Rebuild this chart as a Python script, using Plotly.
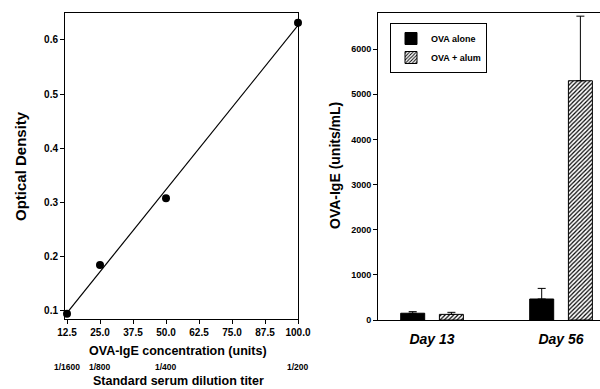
import numpy as np
import plotly.graph_objects as go

# ---------------- data ----------------
conc_units = [12.5, 25.0, 50.0, 100.0]
optical_density = [0.095, 0.185, 0.308, 0.632]
conc_ticks = [12.5, 25.0, 37.5, 50.0, 62.5, 75.0, 87.5, 100.0]
dilution_positions = [12.5, 25.0, 50.0, 100.0]
dilution_labels = ["1/1600", "1/800", "1/400", "1/200"]
od_ticks = [0.1, 0.2, 0.3, 0.4, 0.5, 0.6]

days = ["Day 13", "Day 56"]
ova_alone = [150, 465]
ova_alone_err = [35, 235]
ova_alum = [125, 5300]
ova_alum_err = [45, 1430]
ige_ticks = [0, 1000, 2000, 3000, 4000, 5000, 6000]

W, H = 600, 389
FONT = "Liberation Sans, Arial, sans-serif"

fig = go.Figure()

# standard curve
slope, intercept = np.polyfit(conc_units, optical_density, 1)
fit_x = [conc_units[0], conc_units[-1]]
fit_y = [slope * v + intercept for v in fit_x]
fig.add_trace(go.Scatter(x=fit_x, y=fit_y, mode="lines",
                         line=dict(color="black", width=1.2),
                         xaxis="x", yaxis="y", showlegend=False, cliponaxis=False))
fig.add_trace(go.Scatter(x=conc_units, y=optical_density, mode="markers",
                         marker=dict(color="black", size=8),
                         xaxis="x", yaxis="y", showlegend=False, cliponaxis=False))

# bars
fig.add_trace(go.Bar(x=days, y=ova_alone, name="OVA alone",
                     marker=dict(color="black", line=dict(color="black", width=1)),
                     error_y=dict(type="data", symmetric=False, array=ova_alone_err,
                                  arrayminus=[0] * len(days), color="black",
                                  thickness=1, width=4),
                     xaxis="x2", yaxis="y2"))
fig.add_trace(go.Bar(x=days, y=ova_alum, name="OVA + alum",
                     marker=dict(color="white", line=dict(color="black", width=1),
                                 pattern=dict(shape="/", size=3, solidity=0.4,
                                              fgcolor="black", bgcolor="white")),
                     error_y=dict(type="data", symmetric=False, array=ova_alum_err,
                                  arrayminus=[0] * len(days), color="black",
                                  thickness=1, width=4),
                     xaxis="x2", yaxis="y2"))

def px_x(p):
    return p / W

def px_y(p):
    return 1 - p / H

tickfont = dict(family=FONT, size=10, color="black", weight="bold")
tickfont_r = dict(family=FONT, size=9, color="black", weight="bold")

fig.update_layout(
    template="none",
    width=W, height=H,
    margin=dict(l=0, r=0, t=0, b=0, autoexpand=False),
    paper_bgcolor="white", plot_bgcolor="white",
    barmode="group", bargap=0.4, bargroupgap=0.38,
    font=dict(family=FONT, color="black"),
    xaxis=dict(domain=[px_x(65), px_x(298)], range=[11.74, 100],
               tickvals=conc_ticks, ticktext=[f"{v:.1f}" for v in conc_ticks],
               tickfont=tickfont, ticks="outside", ticklen=4, tickcolor="black",
               showline=True, linecolor="black", linewidth=1, mirror=True,
               showgrid=False, zeroline=False, anchor="y", automargin=False),
    yaxis=dict(domain=[px_y(319), px_y(13)], range=[0.0852, 0.6498],
               tickvals=od_ticks, ticktext=[f"{v:.1f}" for v in od_ticks],
               tickfont=tickfont, ticks="outside", ticklen=4, tickcolor="black",
               showline=True, linecolor="black", linewidth=1, mirror=True,
               showgrid=False, zeroline=False, anchor="x", automargin=False),
    xaxis2=dict(domain=[px_x(378), 1.0], range=[-0.419, 1.302],
                tickfont=dict(family=FONT, size=14, color="black", weight="bold",
                              style="italic"),
                ticks="", showline=True, linecolor="black", linewidth=1, mirror=True,
                showgrid=False, zeroline=False, anchor="y2", ticklabelstandoff=6,
                automargin=False),
    yaxis2=dict(domain=[px_y(320), px_y(13)], range=[0, 6800],
                tickvals=ige_ticks, tickfont=tickfont_r,
                ticks="outside", ticklen=4, tickcolor="black",
                showline=True, linecolor="black", linewidth=1, mirror=False,
                showgrid=False, zeroline=False, anchor="x2", automargin=False),
    legend=dict(x=px_x(390), y=px_y(23), xanchor="left", yanchor="top",
                bordercolor="black", borderwidth=1, bgcolor="white",
                font=dict(family=FONT, size=9, color="black", weight="bold"),
                tracegroupgap=0, itemwidth=30),
)

def label(text, x, y, size, angle=0, xref="paper"):
    return dict(text=text, x=x, y=px_y(y), xref=xref, yref="paper",
                xanchor="center", yanchor="middle", textangle=angle,
                showarrow=False,
                font=dict(family=FONT, size=size, color="black", weight="bold"))

annotations = [
    label("Optical Density", px_x(20), 166, 15, -90),
    label("OVA-IgE concentration (units)", px_x(178), 351, 12.5),
    label("Standard serum dilution titer", px_x(178), 381, 12.5),
    label("OVA-IgE (units/mL)", px_x(335), 166, 14, -90),
]
for pos, lab in zip(dilution_positions, dilution_labels):
    annotations.append(label(lab, pos, 367, 8.5, xref="x"))
fig.update_layout(annotations=annotations)

fig.write_html("out.html",
               config={"displayModeBar": False},
               post_script="document.body.style.margin='0px';document.body.style.padding='0px';")
